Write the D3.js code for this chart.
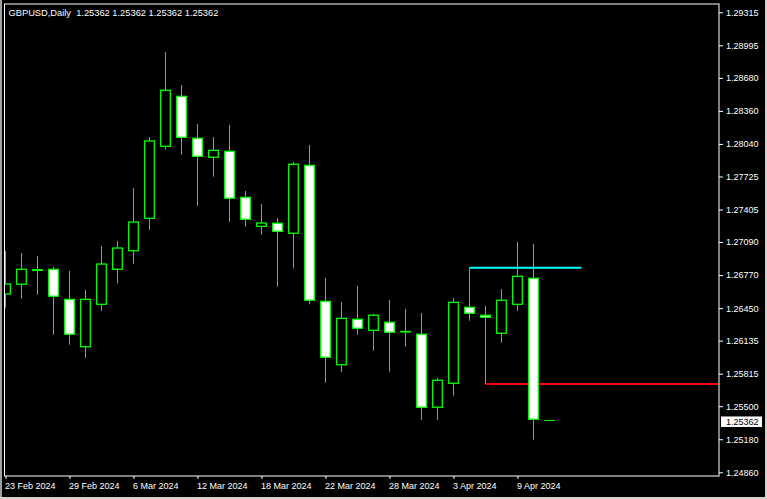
<!DOCTYPE html>
<html>
<head>
<meta charset="utf-8">
<script src="https://cdn.jsdelivr.net/npm/d3@7"></script>
<style>
  html, body { margin: 0; padding: 0; background: #000; }
  svg { display: block; }
  text { font-family: "Liberation Sans", Arial, sans-serif; font-size: 9px; fill: #fff; }
</style>
</head>
<body>
<svg width="767" height="499"></svg>
<script>
const symbol = "GBPUSD,Daily";

const dates = [
  "23 Feb 2024", "26 Feb 2024", "27 Feb 2024", "28 Feb 2024", "29 Feb 2024",
  "1 Mar 2024", "4 Mar 2024", "5 Mar 2024", "6 Mar 2024", "7 Mar 2024",
  "8 Mar 2024", "11 Mar 2024", "12 Mar 2024", "13 Mar 2024", "14 Mar 2024",
  "15 Mar 2024", "18 Mar 2024", "19 Mar 2024", "20 Mar 2024", "21 Mar 2024",
  "22 Mar 2024", "25 Mar 2024", "26 Mar 2024", "27 Mar 2024", "28 Mar 2024",
  "29 Mar 2024", "1 Apr 2024", "2 Apr 2024", "3 Apr 2024", "4 Apr 2024",
  "5 Apr 2024", "8 Apr 2024", "9 Apr 2024", "10 Apr 2024", "11 Apr 2024"
];

const opens = [
  1.26587, 1.26681, 1.26822, 1.26826, 1.26535, 1.26076, 1.26487, 1.26826, 1.27006, 1.27320,
  1.28017, 1.28501, 1.28095, 1.27911, 1.27969, 1.27523, 1.27242, 1.27272, 1.27175, 1.27833,
  1.26516, 1.25902, 1.26342, 1.26235, 1.26313, 1.26224, 1.26197, 1.25490, 1.25722, 1.26458,
  1.26381, 1.26206, 1.26487, 1.26739, 1.25362
];
const highs = [
  1.27003, 1.26984, 1.26955, 1.26848, 1.26810, 1.26626, 1.27052, 1.27100, 1.27613, 1.28107,
  1.28930, 1.28611, 1.28233, 1.28107, 1.28224, 1.27584, 1.27458, 1.27323, 1.27865, 1.28030,
  1.26742, 1.26509, 1.26664, 1.26396, 1.26529, 1.26442, 1.26403, 1.25773, 1.26548, 1.26842,
  1.26471, 1.26635, 1.27090, 1.27071, 1.25362
];
const lows = [
  1.26454, 1.26541, 1.26580, 1.26193, 1.26096, 1.25970, 1.26425, 1.26690, 1.26880, 1.27210,
  1.27984, 1.27936, 1.27442, 1.27723, 1.27287, 1.27239, 1.27161, 1.26658, 1.26836, 1.26487,
  1.25728, 1.25831, 1.26193, 1.26038, 1.25834, 1.26076, 1.25367, 1.25367, 1.25602, 1.26328,
  1.25715, 1.26115, 1.26425, 1.25176, 1.25362
];
const closes = [
  1.26684, 1.26826, 1.26816, 1.26565, 1.26197, 1.26535, 1.26877, 1.27032, 1.27284, 1.28069,
  1.28560, 1.28104, 1.27920, 1.27978, 1.27514, 1.27310, 1.27274, 1.27194, 1.27843, 1.26526,
  1.25974, 1.26351, 1.26255, 1.26381, 1.26216, 1.26220, 1.25490, 1.25751, 1.26506, 1.26400,
  1.26361, 1.26526, 1.26758, 1.25373, 1.25362
];

const priceTicks = [
  1.29315, 1.28995, 1.28680, 1.28360, 1.28040, 1.27725, 1.27405, 1.27090,
  1.26770, 1.26450, 1.26135, 1.25815, 1.25500, 1.25180, 1.24860
];
const dateTickIdx = [0, 4, 8, 12, 16, 20, 24, 28, 32];

// horizontal line objects: price, first bar, last bar (null = ray to edge)
const linePrices = [1.26842, 1.25715];
const lineFrom = [29, 30];
const lineTo = [36, null];

const svg = d3.select("svg");
const width = +svg.attr("width");
const height = +svg.attr("height");
const plotLeft = 4.5, plotTop = 4, plotRight = 719, plotBottom = 476;

const x = d3.scaleLinear().domain([0, dates.length - 1]).range([5.5, 549.5]);
const y = d3.scaleLinear().domain([1.24860, 1.29315]).range([472.3, 12.3]);
const fmt = d3.format(".5f");

svg.append("rect").attr("width", width).attr("height", height).attr("fill", "#000");

// window edges
svg.append("rect").attr("x", 0).attr("y", 0).attr("width", 2).attr("height", height).attr("fill", "#a0a0a0");
svg.append("rect").attr("x", width - 2).attr("y", 0).attr("width", 2).attr("height", height).attr("fill", "#d4d0c8");
svg.append("rect").attr("x", 0).attr("y", height - 2).attr("width", width).attr("height", 2).attr("fill", "#d4d0c8");

svg.append("clipPath").attr("id", "plot")
  .append("rect")
  .attr("x", plotLeft + 0.5).attr("y", plotTop + 0.5)
  .attr("width", plotRight - plotLeft - 1).attr("height", plotBottom - plotTop - 1);

const plot = svg.append("g").attr("clip-path", "url(#plot)");

const bars = d3.range(dates.length).map(i => ({
  i, o: opens[i], h: highs[i], l: lows[i], c: closes[i]
}));

// wicks
plot.selectAll("line.wick")
  .data(bars.filter(d => d.h !== d.l))
  .join("line")
  .attr("class", "wick")
  .attr("x1", d => x(d.i)).attr("x2", d => x(d.i))
  .attr("y1", d => y(d.h)).attr("y2", d => y(d.l))
  .attr("stroke", "#00ff00")
  .attr("stroke-width", 1);

// level lines (over wicks, under bodies)
const lineColors = ["#00ffff", "#ff0000"];
linePrices.forEach((p, k) => {
  plot.append("line")
    .attr("x1", x(lineFrom[k]))
    .attr("x2", lineTo[k] === null ? plotRight : x(lineTo[k]))
    .attr("y1", y(p)).attr("y2", y(p))
    .attr("stroke", lineColors[k])
    .attr("stroke-width", 2);
});

// bodies
const bodyW = 9.6;
plot.selectAll("rect.body")
  .data(bars.filter(d => d.h !== d.l))
  .join("rect")
  .attr("class", "body")
  .attr("x", d => x(d.i) - bodyW / 2)
  .attr("width", bodyW)
  .attr("y", d => y(Math.max(d.o, d.c)))
  .attr("height", d => Math.abs(y(d.o) - y(d.c)))
  .attr("fill", d => (d.c < d.o ? "#fff" : "#000"))
  .attr("stroke", "#00ff00")
  .attr("stroke-width", 1.3);

// flat current bar
plot.selectAll("line.flat")
  .data(bars.filter(d => d.h === d.l))
  .join("line")
  .attr("class", "flat")
  .attr("x1", d => x(d.i) - 5.5).attr("x2", d => x(d.i) + 5.5)
  .attr("y1", d => y(d.c)).attr("y2", d => y(d.c))
  .attr("stroke", "#00ff00")
  .attr("stroke-width", 1);

// frame
svg.append("rect")
  .attr("x", plotLeft).attr("y", plotTop)
  .attr("width", plotRight - plotLeft).attr("height", plotBottom - plotTop)
  .attr("fill", "none")
  .attr("stroke", "#fff")
  .attr("stroke-width", 1);

// price axis
const yAxis = svg.append("g")
  .attr("transform", `translate(${plotRight},0)`)
  .call(d3.axisRight(y).tickValues(priceTicks).tickFormat(fmt).tickSize(4).tickPadding(3));
yAxis.select(".domain").remove();
yAxis.selectAll(".tick line").attr("stroke", "#fff");
yAxis.selectAll(".tick text").attr("fill", "#fff").style("font-size", "9px");

// date axis
const xAxis = svg.append("g")
  .attr("transform", `translate(0,${plotBottom})`)
  .call(d3.axisBottom(x).tickValues(dateTickIdx).tickFormat(i => dates[i]).tickSize(3));
xAxis.select(".domain").remove();
xAxis.selectAll(".tick line").attr("stroke", "#fff");
xAxis.selectAll(".tick text")
  .attr("fill", "#fff")
  .attr("text-anchor", "start")
  .attr("x", -1)
  .attr("y", 13)
  .attr("dy", null)
  .style("font-size", "9px");

// bid label
const last = bars[bars.length - 1];
svg.append("rect")
  .attr("x", 721).attr("y", y(last.c) - 4)
  .attr("width", 41).attr("height", 10.5)
  .attr("fill", "#fff");
svg.append("text")
  .attr("x", 726).attr("y", y(last.c) + 4.5)
  .style("fill", "#000")
  .text(fmt(last.c));

// title
svg.append("text")
  .attr("x", 8.5).attr("y", 16)
  .style("font-size", "9.3px")
  .style("white-space", "pre")
  .text(`${symbol}  ${fmt(last.o)} ${fmt(last.h)} ${fmt(last.l)} ${fmt(last.c)}`);
</script>
</body>
</html>
